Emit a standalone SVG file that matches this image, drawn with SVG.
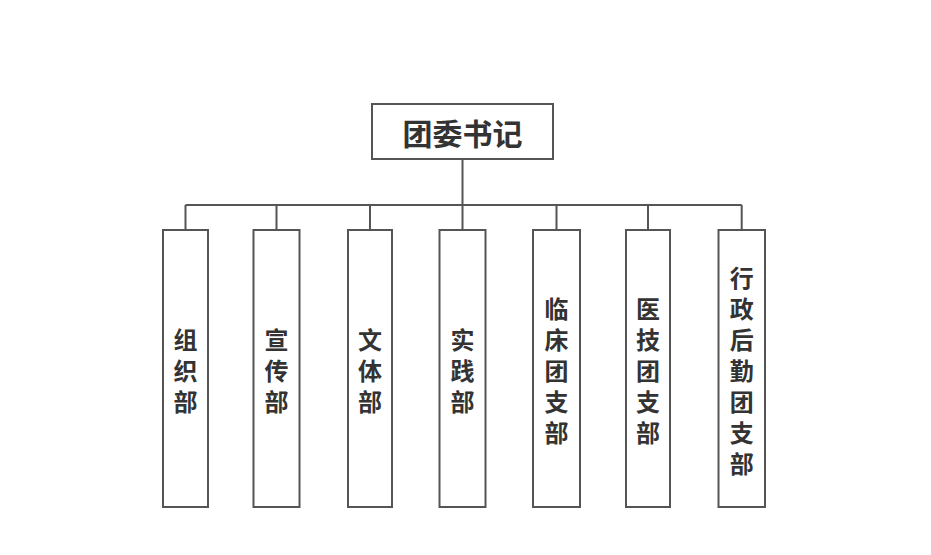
<svg xmlns="http://www.w3.org/2000/svg" width="931" height="555" viewBox="0 0 931 555">
<style>
.box{fill:#fff;stroke:#555;stroke-width:2}
.ln{fill:none;stroke:#555;stroke-width:2}
.t{font-family:"Noto Sans CJK SC","Noto Sans",sans-serif;font-weight:bold;fill:#333;text-anchor:middle;dominant-baseline:central}
.v{font-size:24px}
</style>
<rect width="931" height="555" fill="#fff"/>
<g id="connectors">
<path class="ln" d="M462.5 159V205M185.5 205H741.7M185.5 205V230M276.5 205V230M370 205V230M462.5 205V230M556.5 205V230M648 205V230M741.7 205V230"/>
</g>
<g id="top">
<rect class="box" x="372" y="104" width="181" height="55"/>
<text class="t" x="462.5" y="132" font-size="30">团委书记</text>
</g>
<g id="n1">
<rect class="box" x="163" y="230" width="45" height="277"/>
<text class="t v" x="185.5"><tspan x="185.5" y="338">组</tspan><tspan x="185.5" y="369">织</tspan><tspan x="185.5" y="400">部</tspan></text>
</g>
<g id="n2">
<rect class="box" x="253.5" y="230" width="46" height="277"/>
<text class="t v"><tspan x="276.5" y="338">宣</tspan><tspan x="276.5" y="369">传</tspan><tspan x="276.5" y="400">部</tspan></text>
</g>
<g id="n3">
<rect class="box" x="348" y="230" width="44" height="277"/>
<text class="t v"><tspan x="370" y="338">文</tspan><tspan x="370" y="369">体</tspan><tspan x="370" y="400">部</tspan></text>
</g>
<g id="n4">
<rect class="box" x="439.5" y="230" width="46" height="277"/>
<text class="t v"><tspan x="462.5" y="338">实</tspan><tspan x="462.5" y="369">践</tspan><tspan x="462.5" y="400">部</tspan></text>
</g>
<g id="n5">
<rect class="box" x="533" y="230" width="47" height="277"/>
<text class="t v"><tspan x="556.5" y="307">临</tspan><tspan x="556.5" y="338">床</tspan><tspan x="556.5" y="369">团</tspan><tspan x="556.5" y="400">支</tspan><tspan x="556.5" y="431">部</tspan></text>
</g>
<g id="n6">
<rect class="box" x="626" y="230" width="44" height="277"/>
<text class="t v"><tspan x="648" y="307">医</tspan><tspan x="648" y="338">技</tspan><tspan x="648" y="369">团</tspan><tspan x="648" y="400">支</tspan><tspan x="648" y="431">部</tspan></text>
</g>
<g id="n7">
<rect class="box" x="718.5" y="230" width="46.5" height="277"/>
<text class="t v"><tspan x="741.7" y="276">行</tspan><tspan x="741.7" y="307">政</tspan><tspan x="741.7" y="338">后</tspan><tspan x="741.7" y="369">勤</tspan><tspan x="741.7" y="400">团</tspan><tspan x="741.7" y="431">支</tspan><tspan x="741.7" y="462">部</tspan></text>
</g>
</svg>
